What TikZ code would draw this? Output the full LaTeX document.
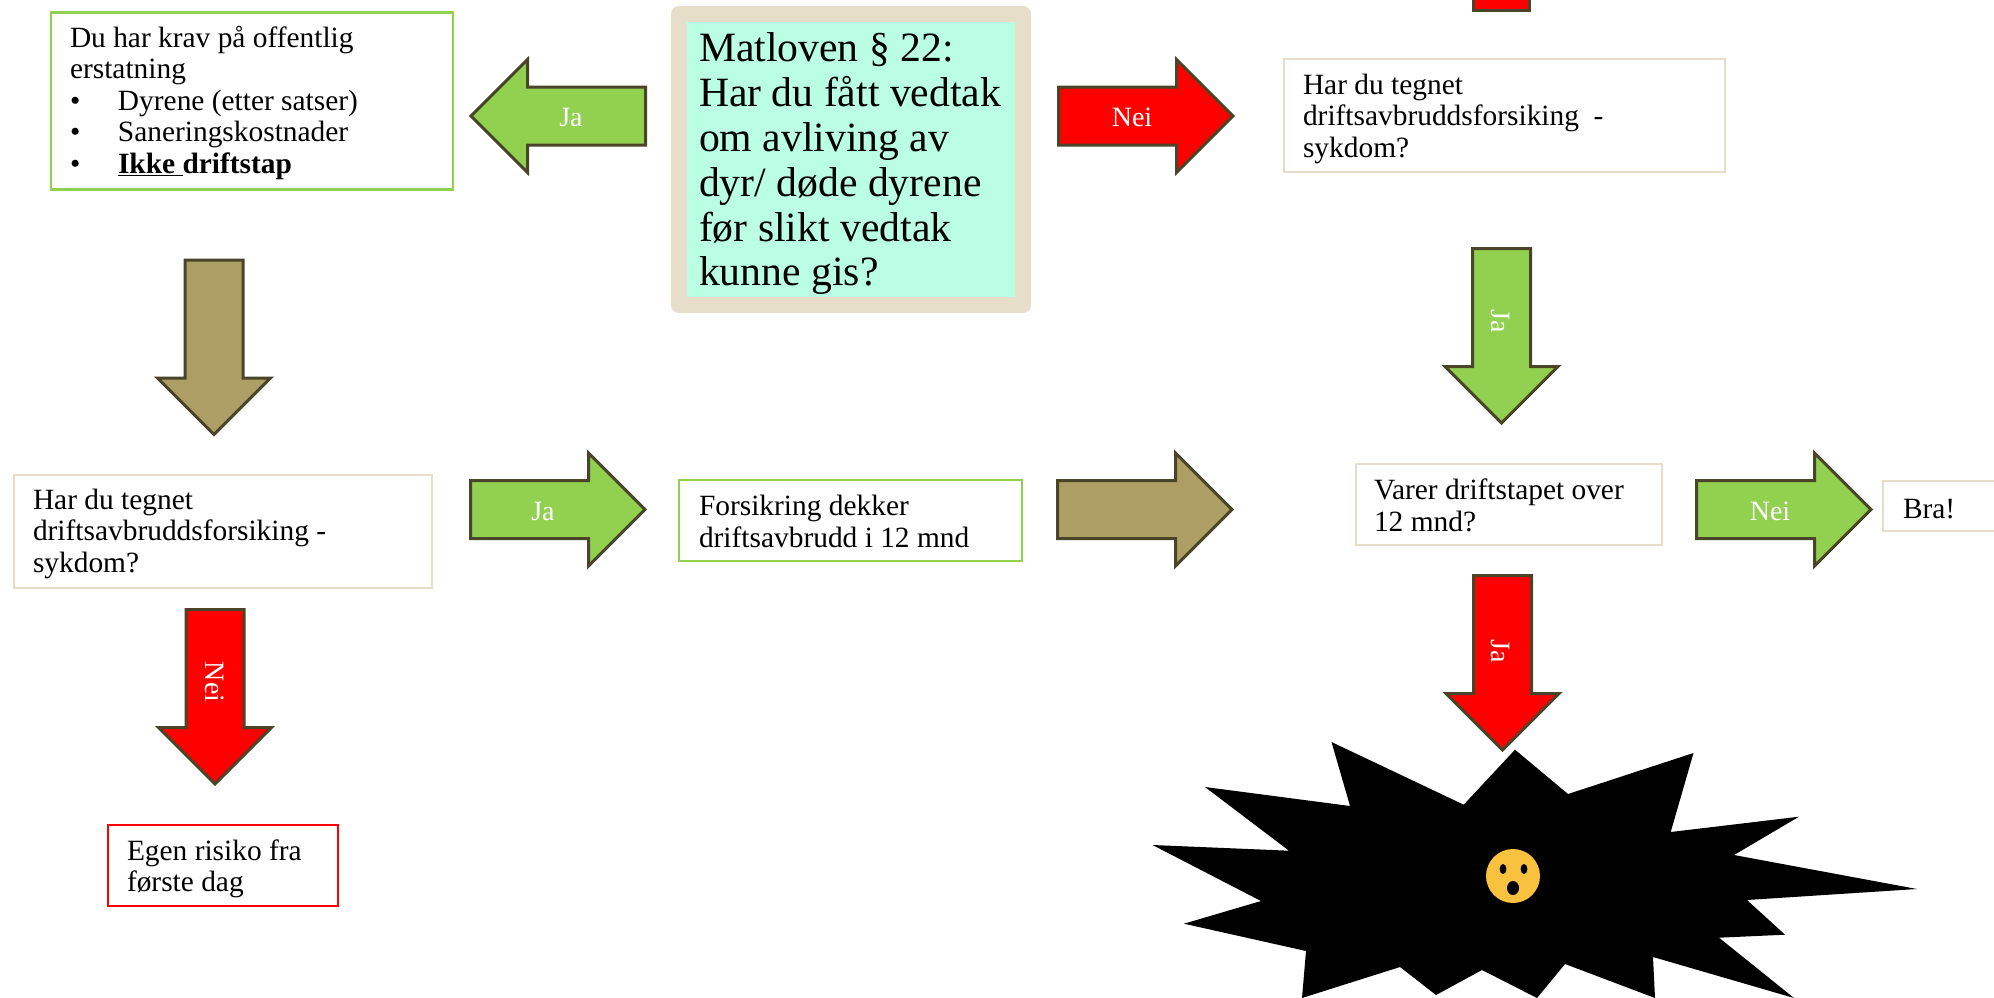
\documentclass[tikz,border=0pt]{standalone}
\usepackage{fontspec}
\setmainfont{Liberation Serif}
\usetikzlibrary{shapes.arrows,shapes.geometric}
\definecolor{cream}{HTML}{E6DEC8}
\definecolor{leaf}{HTML}{92D050}
\definecolor{olive}{HTML}{AD9E64}
\definecolor{edgebrown}{HTML}{4A4529}
\definecolor{mint}{HTML}{BAFFE3}
\definecolor{sun}{HTML}{F8C13E}
\definecolor{pure}{HTML}{FF0000}
\newcommand{\bodyfont}{\fontsize{29.4}{31.6}\selectfont}
\newcommand{\bigfont}{\fontsize{41.7}{44.8}\selectfont}
\newcommand{\pt}{\makebox[48pt][l]{•}}
\newcommand{\dn}{\mbox{}\\[-6.6pt]}
\newcommand{\dnbig}{\mbox{}\\[-6.8pt]}
\tikzset{
  x=1pt,y=-1pt,
  boxbase/.style={rectangle,draw,line width=2.4pt,fill=white,outer sep=0pt,anchor=north west,align=flush left,font=\bodyfont,text=black,inner ysep=0pt},
  creambox/.style={boxbase,draw=cream},
  greenbox/.style={boxbase,draw=leaf},
  redbox/.style={boxbase,draw=pure},
  block/.style={single arrow,draw=edgebrown,line width=3pt,inner ysep=27.5pt,inner xsep=0pt,outer sep=0pt,
    single arrow head extend=27.5pt,single arrow tip angle=90,single arrow head indent=0pt,minimum height=174.5pt,anchor=tail},
  arrowtext/.style={text=white,font=\fontsize{28}{30}\selectfont,inner sep=0pt},
}
\begin{document}
\begin{tikzpicture}
\path[use as bounding box] (0,0) rectangle (1994,998);
\clip (0,0) rectangle (1994,998);
\fill[white] (0,0) rectangle (1994,998);

% text boxes
\node[greenbox,minimum width=402pt,minimum height=177pt,inner xsep=19pt,text width=364pt] (comp) at (51,12.5)
 {\dn Du har krav på offentlig\\erstatning\\\pt Dyrene (etter satser)\\\pt Saneringskostnader\\\pt\textbf{\underline{Ikke }driftstap}};
\node[rectangle,draw=cream,line width=16pt,line join=round,fill=mint,outer sep=0pt,anchor=north west,minimum width=344pt,minimum height=291pt,
  inner xsep=20pt,inner ysep=0pt,text width=304pt,align=flush left,font=\bigfont] (main) at (679,14)
 {\dnbig Matloven § 22:\\\mbox{Har du fått vedtak}\\om avliving av\\dyr/ døde dyrene\\før slikt vedtak\\kunne gis?};
\node[creambox,minimum width=441pt,minimum height=113pt,inner xsep=19pt,text width=403pt] (insb) at (1284,59)
 {\mbox{}\\[-4.6pt]Har du tegnet\\driftsavbruddsforsiking\ \ -\\sykdom?};
\node[creambox,minimum width=418pt,minimum height=113pt,inner xsep=19pt,text width=380pt] (insa) at (14,475)
 {\dn Har du tegnet\\driftsavbruddsforsiking -\\sykdom?};
\node[greenbox,minimum width=343pt,minimum height=81pt,inner xsep=20pt,text width=303pt] (cover) at (679,480)
 {\mbox{}\\[-9.6pt]Forsikring dekker\\driftsavbrudd i 12 mnd};
\node[creambox,minimum width=306pt,minimum height=81pt,inner xsep=18pt,text width=270pt] (last) at (1356,464)
 {\mbox{}\\[-8.6pt]Varer driftstapet over\\12 mnd?};
\node[creambox,minimum width=220pt,minimum height=50pt,inner xsep=20pt,text width=180pt] (fine) at (1883,481)
 {\dn Bra!};
\node[redbox,minimum width=230pt,minimum height=81pt,inner xsep=19pt,text width=192pt] (own) at (108,825)
 {\mbox{}\\[-4.6pt]Egen risiko fra\\første dag};

% block arrows
\node[block,fill=leaf,rotate=180] (a1) at (645.5,116) {};
\node[block,fill=pure] (a2) at (1058.5,116) {};
\node[block,fill=olive,rotate=-90] (a3) at (214,260) {};
\node[block,fill=leaf,rotate=-90] (a4) at (1501.5,248.5) {};
\node[block,fill=leaf] (a5) at (470.5,509.5) {};
\node[block,fill=olive] (a6) at (1057.5,509.5) {};
\node[block,fill=leaf] (a7) at (1696.5,509.5) {};
\node[block,fill=pure,rotate=-90] (a8) at (215,609.5) {};
\node[block,fill=pure,rotate=-90] (a9) at (1502.5,575.5) {};
\node[rectangle,draw=edgebrown,line width=3pt,fill=pure,minimum width=56pt,minimum height=40pt,outer sep=0pt,anchor=south] (stub) at (1501.5,10.5) {};

% arrow labels
\node[arrowtext] (l1) at (571,117) {Ja};
\node[arrowtext] (l2) at (1132,117) {Nei};
\node[arrowtext,rotate=-90] (l4) at (1501,321) {Ja};
\node[arrowtext] (l5) at (543,511) {Ja};
\node[arrowtext] (l7) at (1770,511) {Nei};
\node[arrowtext,rotate=-90] (l8) at (215,682) {Nei};
\node[arrowtext,rotate=-90] (l9) at (1501,651) {Ja};

% burst
\fill[black] (1331.5,742) -- (1463.7,804.7) -- (1515,749.7) -- (1568,794) -- (1693.5,753) -- (1670.7,832)
 -- (1799,816.7) -- (1734,855) -- (1917,889) -- (1747,900) -- (1785,934.7) -- (1719,937.7) -- (1794,998)
 -- (1653,957) -- (1655,998) -- (1565,964) -- (1537,998) -- (1482,970) -- (1436,995) -- (1400,967)
 -- (1302,998) -- (1306,951) -- (1184,923.7) -- (1261,901) -- (1152.5,845) -- (1289,850.7) -- (1205,787)
 -- (1350,806) -- cycle;

% face
\fill[sun] (1513,876) circle[radius=27];
\fill[black] (1503,869) ellipse[x radius=3.4,y radius=5];
\fill[black] (1524,869) ellipse[x radius=3.4,y radius=5];
\fill[black] (1513,888) ellipse[x radius=6,y radius=7];
\end{tikzpicture}
\end{document}
